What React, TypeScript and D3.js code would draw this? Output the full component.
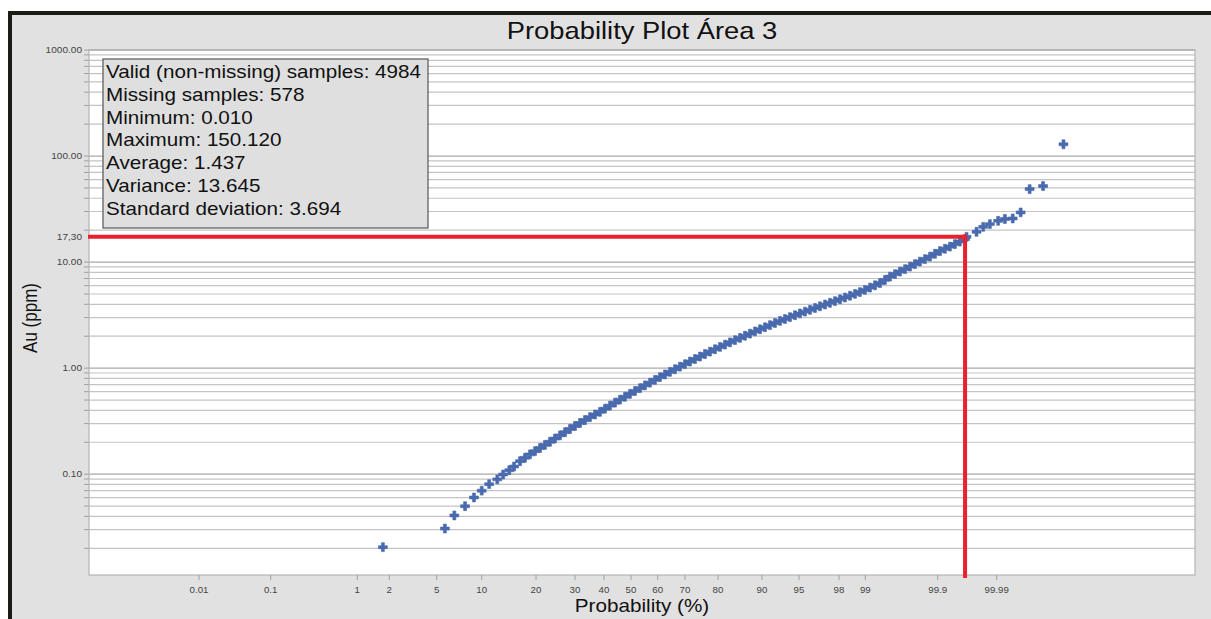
import React from 'react';
import * as d3 from 'd3';

// ---------- text ----------
const TITLE = 'Probability Plot Área 3';
const X_TITLE = 'Probability (%)';
const Y_TITLE = 'Au (ppm)';

// ---------- axes ----------
const probTicks = [0.01, 0.1, 1, 2, 5, 10, 20, 30, 40, 50, 60, 70, 80, 90, 95, 98, 99, 99.9, 99.99];
const probTickLabels = ['0.01', '0.1', '1', '2', '5', '10', '20', '30', '40', '50', '60', '70', '80', '90', '95', '98', '99', '99.9', '99.99'];
const valueTicks = [0.1, 1, 10, 100, 1000];
const valueTickLabels = ['0.10', '1.00', '10.00', '100.00', '1000.00'];
const valueDomain = [0.0112, 1000];

// ---------- statistics box ----------
const statsLines = [
  'Valid (non-missing) samples: 4984',
  'Missing samples: 578',
  'Minimum: 0.010',
  'Maximum: 150.120',
  'Average: 1.437',
  'Variance: 13.645',
  'Standard deviation: 3.694',
];

// ---------- reference annotation ----------
const refValue = 17.3;
const refLabel = '17,30';
const refProb = 99.964;

// ---------- samples (cumulative probability %, Au ppm) ----------
const sampleProb = [
  1.75, 5.72, 6.65, 7.84, 8.95, 10.0, 11.1, 12.4, 13.4, 14.5, 15.4,
  16.57, 17.60, 18.66, 19.78, 20.93, 22.11, 23.34, 24.60, 25.90, 27.24,
  28.60, 30.00, 31.64, 33.33, 35.04, 36.79, 38.56, 40.37, 42.19, 44.03,
  45.89, 47.76, 49.63, 51.51, 53.40, 55.28, 57.15, 59.01, 60.88, 62.77,
  64.63, 66.46, 68.25, 70.00, 71.65, 73.25, 74.81, 76.32, 77.78, 79.18,
  80.56, 81.90, 83.19, 84.41, 85.58, 86.68, 87.73, 88.72, 89.65, 90.51,
  91.31, 92.06, 92.76, 93.41, 94.02, 94.58, 95.10, 95.60, 96.06, 96.47,
  96.85, 97.20, 97.51, 97.79, 98.05, 98.28, 98.49, 98.68, 98.84, 98.99,
  99.125, 99.243, 99.346, 99.436, 99.516, 99.585, 99.645, 99.698, 99.743, 99.782,
  99.815, 99.844, 99.869, 99.890, 99.908, 99.923, 99.936, 99.947, 99.956, 99.964,
  99.966, 99.9771, 99.9825, 99.9867, 99.9906, 99.99295, 99.99498, 99.99647, 99.99765, 99.99874,
  99.99953,
];
const sampleAu = [
  0.0205, 0.0307, 0.0408, 0.0499, 0.0603, 0.0699, 0.0805, 0.0893, 0.0993, 0.109, 0.118,
  0.1326, 0.1428, 0.1537, 0.1648, 0.1767, 0.1890, 0.2021, 0.2167, 0.2323, 0.2489,
  0.2669, 0.2849, 0.3041, 0.3239, 0.3449, 0.3659, 0.3871, 0.4148, 0.4429, 0.4726,
  0.5045, 0.5373, 0.5722, 0.6094, 0.6475, 0.6880, 0.7298, 0.7754, 0.8225, 0.8721,
  0.9228, 0.9763, 1.033, 1.091, 1.154, 1.218, 1.286, 1.358, 1.431, 1.508,
  1.585, 1.666, 1.751, 1.837, 1.927, 2.022, 2.116, 2.220, 2.323, 2.431,
  2.545, 2.664, 2.788, 2.906, 3.028, 3.156, 3.281, 3.412, 3.548, 3.690,
  3.828, 3.981, 4.130, 4.286, 4.458, 4.634, 4.820, 5.012, 5.212, 5.467,
  5.746, 6.040, 6.338, 6.796, 7.298, 7.705, 8.135, 8.590, 9.070, 9.575,
  10.11, 10.67, 11.27, 11.98, 12.70, 13.35, 14.00, 14.78, 15.61, 16.48,
  17.3, 19.3, 21.5, 22.8, 24.5, 25.5, 25.8, 29.4, 48.8, 52.1,
  129,
];

// ---------- layout ----------
const W = 1211;
const H = 619;
const PLOT = { left: 89, right: 1195, top: 50, bottom: 575 };
// pixel calibration of the probability ticks (normal-score axis as drawn)
const X_CALIBRATION = [199, 270.7, 357.3, 389.3, 436.7, 481.7, 536, 575, 604, 631, 657.7, 685, 718, 762, 799, 839, 865.3, 937.7, 996.7];
const FONT = 'Liberation Sans, Arial, sans-serif';
const POINT_COLOR = '#4a6aae';
const RED = '#e8222c';
const STRETCH = 1.16; // the source text is drawn slightly wide

function normInv(p: number): number {
  const a = [-3.969683028665376e1, 2.209460984245205e2, -2.759285104469687e2, 1.38357751867269e2, -3.066479806614716e1, 2.506628277459239];
  const b = [-5.447609879822406e1, 1.615858368580409e2, -1.556989798598866e2, 6.680131188771972e1, -1.328068155288572e1];
  const c = [-7.784894002430293e-3, -3.223964580411365e-1, -2.400758277161838, -2.549732539343734, 4.374664141464968, 2.938163982698783];
  const d = [7.784695709041462e-3, 3.224671290700398e-1, 2.445134137142996, 3.754408661907416];
  const pl = 0.02425;
  if (p < pl) {
    const q = Math.sqrt(-2 * Math.log(p));
    return (((((c[0] * q + c[1]) * q + c[2]) * q + c[3]) * q + c[4]) * q + c[5]) / ((((d[0] * q + d[1]) * q + d[2]) * q + d[3]) * q + 1);
  }
  if (p <= 1 - pl) {
    const q = p - 0.5;
    const r = q * q;
    return ((((((a[0] * r + a[1]) * r + a[2]) * r + a[3]) * r + a[4]) * r + a[5]) * q) / (((((b[0] * r + b[1]) * r + b[2]) * r + b[3]) * r + b[4]) * r + 1);
  }
  const q = Math.sqrt(-2 * Math.log(1 - p));
  return -(((((c[0] * q + c[1]) * q + c[2]) * q + c[3]) * q + c[4]) * q + c[5]) / ((((d[0] * q + d[1]) * q + d[2]) * q + d[3]) * q + 1);
}

const zScale = d3.scaleLinear().domain(probTicks.map((p) => normInv(p / 100))).range(X_CALIBRATION);
const xScale = (p: number) => zScale(normInv(p / 100));
const yScale = d3.scaleLog().domain(valueDomain).range([PLOT.bottom, PLOT.top]);

const gridValues: { v: number; major: boolean }[] = [];
for (let e = -2; e <= 3; e++) {
  for (let k = 1; k <= 9; k++) {
    const v = k * Math.pow(10, e);
    if (v >= valueDomain[0] && v <= valueDomain[1] * 1.0001) gridValues.push({ v, major: k === 1 });
  }
}

const cross = d3.symbol().type(d3.symbolCross).size(44)();

function WideText(props: { x: number; y: number; size: number; anchor?: string; sx?: number; fill?: string; dy?: string; children: React.ReactNode }) {
  const { x, y, size, anchor = 'start', sx = STRETCH, fill = '#111', dy, children } = props;
  return (
    <text transform={`translate(${x},${y}) scale(${sx},1)`} textAnchor={anchor as any} fontSize={size} fill={fill} dy={dy}>
      {children}
    </text>
  );
}

export default function App() {
  const points = sampleProb.map((p, i) => ({ x: xScale(p), y: yScale(sampleAu[i]) }));
  const refX = xScale(refProb);
  const refY = yScale(refValue);
  const boxX = 103;
  const boxY = 59;
  const boxW = 325;
  const boxH = 169;
  return (
    <svg width={W} height={H} style={{ position: 'absolute', left: 0, top: 0, display: 'block' }} fontFamily={FONT}>
      <rect x={0} y={0} width={W} height={H} fill="#ffffff" />
      <rect x={10} y={13} width={W} height={H} fill="#e1e1e1" stroke="#1c1c16" strokeWidth={4} />

      <WideText x={(PLOT.left + PLOT.right) / 2} y={39} size={24} anchor="middle" sx={1.14}>
        {TITLE}
      </WideText>

      <rect x={PLOT.left} y={PLOT.top} width={PLOT.right - PLOT.left} height={PLOT.bottom - PLOT.top} fill="#ffffff" />

      {gridValues.map((g, i) => (
        <g key={i}>
          <line x1={PLOT.left} x2={PLOT.right} y1={yScale(g.v)} y2={yScale(g.v)} stroke={g.major ? '#a8a8a8' : '#c4c4c4'} strokeWidth={g.major ? 1.3 : 1.2} />
          <line x1={PLOT.left - 5} x2={PLOT.left} y1={yScale(g.v)} y2={yScale(g.v)} stroke="#a0a0a0" strokeWidth={1} />
        </g>
      ))}

      <rect x={PLOT.left} y={PLOT.top} width={PLOT.right - PLOT.left} height={PLOT.bottom - PLOT.top} fill="none" stroke="#b4b4b4" strokeWidth={1.2} />

      {valueTicks.map((v, i) => (
        <WideText key={i} x={PLOT.left - 7} y={yScale(v)} dy="0.35em" anchor="end" size={9} sx={1.12} fill="#444">
          {valueTickLabels[i]}
        </WideText>
      ))}
      <WideText x={PLOT.left - 7} y={refY} dy="0.35em" anchor="end" size={9} sx={1.12} fill="#444">
        {refLabel}
      </WideText>

      {probTicks.map((p, i) => (
        <g key={i}>
          <line x1={xScale(p)} x2={xScale(p)} y1={PLOT.bottom} y2={PLOT.bottom + 5} stroke="#a0a0a0" strokeWidth={1} />
          <WideText x={xScale(p)} y={PLOT.bottom + 18} anchor="middle" size={9} sx={1.08} fill="#444">
            {probTickLabels[i]}
          </WideText>
        </g>
      ))}

      {points.map((pt, i) => (
        <path key={i} d={cross} transform={`translate(${pt.x},${pt.y})`} fill={POINT_COLOR} stroke={POINT_COLOR} strokeWidth={0.6} strokeLinejoin="round" />
      ))}

      <line x1={PLOT.left - 1} x2={refX + 2} y1={refY} y2={refY} stroke={RED} strokeWidth={4} />
      <line x1={refX} x2={refX} y1={refY - 2} y2={PLOT.bottom + 3} stroke={RED} strokeWidth={4} />

      <rect x={boxX} y={boxY} width={boxW} height={boxH} fill="#dfdfdf" stroke="#555" strokeWidth={1.2} />
      {statsLines.map((s, i) => (
        <WideText key={i} x={boxX + 3} y={boxY + 19 + i * 22.8} size={17.5} sx={1.18}>
          {s}
        </WideText>
      ))}

      <WideText x={(PLOT.left + PLOT.right) / 2} y={612} anchor="middle" size={18} sx={1.15}>
        {X_TITLE}
      </WideText>
      <text transform={`translate(37, 318) rotate(-90) scale(1, 1.16)`} textAnchor="middle" fontSize={17} fill="#111">
        {Y_TITLE}
      </text>
    </svg>
  );
}
